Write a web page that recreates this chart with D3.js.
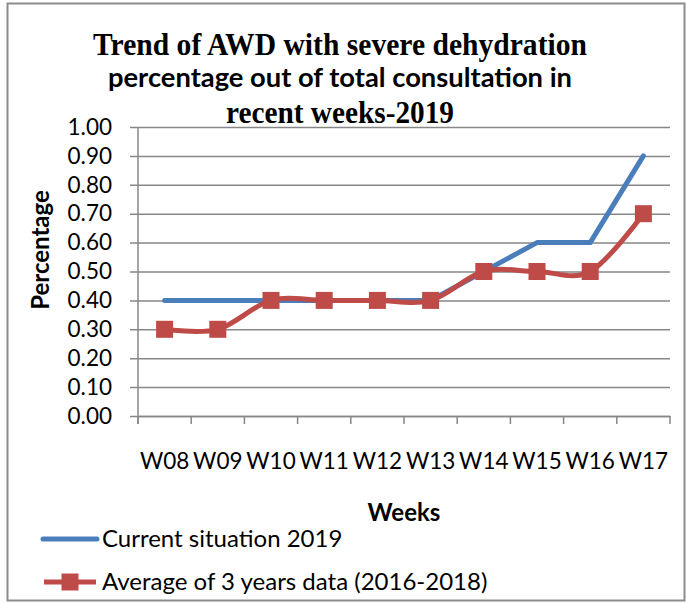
<!DOCTYPE html>
<html lang="en">
<head>
  <meta charset="utf-8">
  <title>Trend of AWD with severe dehydration</title>
  <script src="https://cdn.jsdelivr.net/npm/d3@7"></script>
  <style>
    body { margin: 0; background: #fff; }
    text { font-family: Lato, "Open Sans", sans-serif; fill: #000; }
    text.serif { font-family: "Liberation Serif", "Times New Roman", serif; }
  </style>
</head>
<body>
  <script>
    // Data
    const weeks = ["W08", "W09", "W10", "W11", "W12", "W13", "W14", "W15", "W16", "W17"];
    const current2019 = [0.4, 0.4, 0.4, 0.4, 0.4, 0.4, 0.5, 0.6, 0.6, 0.9];
    const avg3years = [0.3, 0.3, 0.4, 0.4, 0.4, 0.4, 0.5, 0.5, 0.5, 0.7];
    const yTicks = [0, 0.1, 0.2, 0.3, 0.4, 0.5, 0.6, 0.7, 0.8, 0.9, 1.0];
    const seriesNames = ["Current situation 2019", "Average of 3 years data (2016-2018)"];

    const W = 687, H = 603;
    const plotL = 138, plotR = 670, plotT = 127, plotB = 416;
    const grey = "#878787";
    const blue = "#4A7EBB";
    const red = "#BE4B48";

    const svg = d3.select("body").append("svg")
      .attr("width", W)
      .attr("height", H);

    // outer frame
    svg.append("rect")
      .attr("x", 7.5).attr("y", 3.5)
      .attr("width", 677).attr("height", 597)
      .attr("fill", "none")
      .attr("stroke", "#8c8c8c")
      .attr("stroke-width", 2);

    const x = d3.scaleBand().domain(weeks).range([plotL, plotR]);
    const y = d3.scaleLinear().domain([0, 1]).range([plotB, plotT]);

    // gridlines + y axis
    const yAxis = d3.axisLeft(y)
      .tickValues(yTicks)
      .tickFormat(d3.format(".2f"))
      .tickSize(-(plotR - plotL))
      .tickPadding(26);
    const gy = svg.append("g")
      .attr("transform", `translate(${plotL},0)`)
      .call(yAxis);
    gy.select(".domain").remove();
    gy.selectAll(".tick line")
      .attr("x1", -8)
      .attr("stroke", grey)
      .attr("stroke-width", 1.5);
    gy.selectAll(".tick text")
      .attr("font-size", 22.5)
      .attr("fill", "#000");

    // y axis vertical line
    svg.append("line")
      .attr("x1", plotL).attr("x2", plotL)
      .attr("y1", plotT).attr("y2", plotB + 8)
      .attr("stroke", grey).attr("stroke-width", 1.5);

    // x axis
    const xAxis = d3.axisBottom(x).tickSize(0).tickPadding(37);
    const gx = svg.append("g")
      .attr("transform", `translate(0,${plotB})`)
      .call(xAxis);
    gx.select(".domain").attr("stroke", grey).attr("stroke-width", 1.5);
    gx.selectAll(".tick text")
      .attr("font-size", 22.5)
      .attr("fill", "#000");

    // x ticks between categories
    const bounds = weeks.map(w => x(w)).concat([plotR]);
    svg.selectAll(".xtick")
      .data(bounds)
      .enter().append("line")
      .attr("x1", d => d).attr("x2", d => d)
      .attr("y1", plotB).attr("y2", plotB + 8)
      .attr("stroke", grey).attr("stroke-width", 1.5);

    const cx = d => x(d) + x.bandwidth() / 2;

    // series lines
    const lineStraight = d3.line()
      .x((d, i) => cx(weeks[i]))
      .y(d => y(d));
    const lineSmooth = d3.line()
      .x((d, i) => cx(weeks[i]))
      .y(d => y(d))
      .curve(d3.curveCardinal.tension(0));

    svg.append("path")
      .datum(current2019)
      .attr("d", lineStraight)
      .attr("fill", "none")
      .attr("stroke", blue)
      .attr("stroke-width", 5)
      .attr("stroke-linecap", "round")
      .attr("stroke-linejoin", "round");

    svg.append("path")
      .datum(avg3years)
      .attr("d", lineSmooth)
      .attr("fill", "none")
      .attr("stroke", red)
      .attr("stroke-width", 5)
      .attr("stroke-linecap", "round");

    const ms = 17;
    svg.selectAll(".marker")
      .data(avg3years)
      .enter().append("rect")
      .attr("x", (d, i) => cx(weeks[i]) - ms / 2)
      .attr("y", d => y(d) - ms / 2)
      .attr("width", ms).attr("height", ms)
      .attr("fill", red);

    // title
    const title = svg.append("g");
    title.append("text")
      .attr("class", "serif")
      .attr("x", 340).attr("y", 55)
      .attr("text-anchor", "middle")
      .attr("font-weight", "bold")
      .attr("font-size", 31)
      .attr("textLength", 494)
      .attr("lengthAdjust", "spacingAndGlyphs")
      .text("Trend of AWD with severe dehydration");
    title.append("text")
      .attr("x", 340).attr("y", 87)
      .attr("text-anchor", "middle")
      .attr("font-weight", "bold")
      .attr("font-size", 26)
      .attr("textLength", 464)
      .attr("lengthAdjust", "spacingAndGlyphs")
      .text("percentage out of total consultation in");
    title.append("text")
      .attr("class", "serif")
      .attr("x", 340).attr("y", 123)
      .attr("text-anchor", "middle")
      .attr("font-weight", "bold")
      .attr("font-size", 31)
      .attr("textLength", 228)
      .attr("lengthAdjust", "spacingAndGlyphs")
      .text("recent weeks-2019");

    // axis titles
    svg.append("text")
      .attr("x", (plotL + plotR) / 2).attr("y", 521)
      .attr("text-anchor", "middle")
      .attr("font-weight", "bold")
      .attr("font-size", 24)
      .text("Weeks");
    svg.append("text")
      .attr("transform", "translate(49,250) rotate(-90)")
      .attr("text-anchor", "middle")
      .attr("font-weight", "bold")
      .attr("font-size", 24)
      .text("Percentage");

    // legend
    const legend = svg.append("g");
    legend.append("line")
      .attr("x1", 43).attr("x2", 97)
      .attr("y1", 539).attr("y2", 539)
      .attr("stroke", blue).attr("stroke-width", 5)
      .attr("stroke-linecap", "round");
    legend.append("text")
      .attr("x", 102).attr("y", 547)
      .attr("font-size", 24)
      .text(seriesNames[0]);
    legend.append("line")
      .attr("x1", 44).attr("x2", 96)
      .attr("y1", 582).attr("y2", 582)
      .attr("stroke", red).attr("stroke-width", 5);
    legend.append("rect")
      .attr("x", 70 - ms / 2).attr("y", 582 - ms / 2)
      .attr("width", ms).attr("height", ms)
      .attr("fill", red);
    legend.append("text")
      .attr("x", 102).attr("y", 590)
      .attr("font-size", 24)
      .text(seriesNames[1]);
  </script>
</body>
</html>
